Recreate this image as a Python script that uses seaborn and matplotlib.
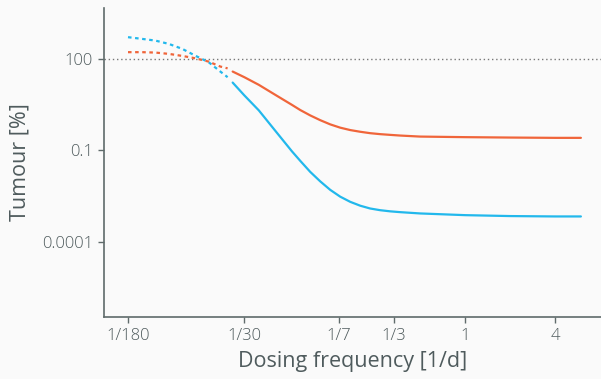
import numpy as np
import pandas as pd
import matplotlib
matplotlib.use("Agg")
import matplotlib.pyplot as plt
import seaborn as sns

# --- data ---
freq_dotted = [1/180, 1/145, 1/118, 1/96, 1/78, 1/64, 1/52, 1/43.4, 1/38.8]
blue_dotted = [515, 453, 398, 310, 213, 128, 78, 38.4, 25.1]
orange_dotted = [166, 166, 161, 146, 125, 105, 81.5, 56, 48.9]

freq_solid = [1/35.9, 1/30, 1/24, 1/18.6, 1/14.4, 1/12.67, 1/10.87, 1/9.32,
              1/7.99, 1/6.85, 1/5.87, 1/5.03, 1/4.32, 1/3.70, 1/3.17, 1/2.72,
              1/2, 1, 2, 4, 5.95]
orange_solid = [38.4, 25.1, 14.1, 6.6, 3.10, 2.10, 1.40, 0.978,
                0.712, 0.555, 0.463, 0.407, 0.366, 0.340, 0.322, 0.306,
                0.283, 0.271, 0.263, 0.257, 0.257]
blue_solid = [16.7, 6.36, 2.05, 0.436, 0.0927, 0.0452, 0.0197, 0.00963,
              0.00507, 0.00303, 0.00205, 0.00153, 0.00124, 0.00109, 0.00100, 0.000941,
              0.000853, 0.000750, 0.00070, 0.00068, 0.00068]

x_ticks = [1/180, 1/30, 1/7, 1/3, 1, 4]
x_ticklabels = ["1/180", "1/30", "1/7", "1/3", "1", "4"]
y_ticks = [100, 0.1, 0.0001]
y_ticklabels = ["100", "0.1", "0.0001"]

ORANGE = "#f0653a"
BLUE = "#22b8ec"
TEXT = "#4f5b5d"
BG = "#fafafa"

sns.set_style("white")
plt.rcParams["font.family"] = ["Open Sans", "DejaVu Sans"]
plt.rcParams["font.weight"] = "light"

fig = plt.figure(figsize=(6.01, 3.79), dpi=100, facecolor=BG)
ax = fig.add_axes([0.173, 0.164, 0.827, 0.815])
ax.set_facecolor(BG)

dot = (0, (1.6, 1.6))
df_dot = pd.DataFrame({"f": freq_dotted, "blue": blue_dotted, "orange": orange_dotted})
df_sol = pd.DataFrame({"f": freq_solid, "blue": blue_solid, "orange": orange_solid})

sns.lineplot(data=df_dot, x="f", y="blue", ax=ax, color=BLUE, lw=1.6, linestyle=dot)
sns.lineplot(data=df_dot, x="f", y="orange", ax=ax, color=ORANGE, lw=1.6, linestyle=dot)
sns.lineplot(data=df_sol, x="f", y="blue", ax=ax, color=BLUE, lw=1.6)
sns.lineplot(data=df_sol, x="f", y="orange", ax=ax, color=ORANGE, lw=1.6)

ax.axhline(100, color="#777777", lw=1.0, linestyle=(0, (1, 2)), zorder=0)

ax.set_xscale("log")
ax.set_yscale("log")
ax.set_xlim(10**-2.416, 10**0.909)
ax.set_ylim(10**-6.46, 10**3.67)

ax.set_xticks(x_ticks)
ax.set_xticklabels(x_ticklabels)
ax.set_yticks(y_ticks)
ax.set_yticklabels(y_ticklabels)
ax.minorticks_off()

for s in ["top", "right"]:
    ax.spines[s].set_visible(False)
for s in ["left", "bottom"]:
    ax.spines[s].set_color("#5f6b6b")
    ax.spines[s].set_linewidth(1.2)

ax.tick_params(axis="both", which="major", direction="out", length=4, width=1,
               color="#5f6b6b", labelcolor=TEXT, labelsize=12, pad=4,
               bottom=True, left=True)

ax.set_xlabel("Dosing frequency [1/d]", fontsize=15.5, color=TEXT, labelpad=5)
ax.set_ylabel("Tumour [%]", fontsize=15.5, color=TEXT, labelpad=8)

fig.savefig("out.png", dpi=100, facecolor=BG)
